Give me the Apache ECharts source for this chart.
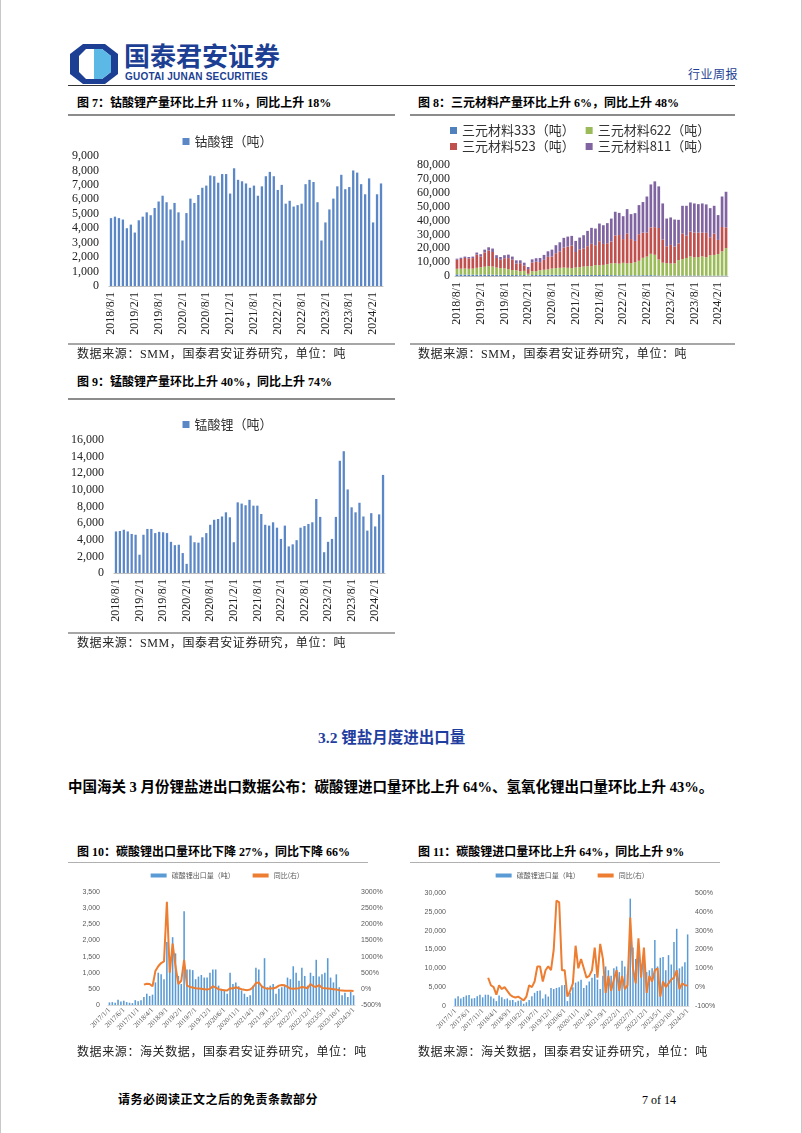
<!DOCTYPE html>
<html>
<head>
<meta charset="utf-8">
<script src="https://cdn.jsdelivr.net/npm/echarts@6/dist/echarts.min.js"></script>
<style>
html, body { margin: 0; padding: 0; background: #fff; }
#page { position: relative; width: 802px; height: 1133px; overflow: hidden;
  font-family: "Liberation Serif", "Noto Sans CJK SC", serif; color: #000;
  box-shadow: inset 1px 0 #c8c8c8, inset -1px 0 #c8c8c8; }
.t { position: absolute; white-space: nowrap; line-height: 14px; }
.title { font-weight: bold; font-size: 12px; }
.src { font-size: 12px; color: #222; letter-spacing: 0.6px; }
.rule { position: absolute; height: 0; }
.chart { position: absolute; }
</style>
</head>
<body>
<div id="page">
  <!-- header -->
  <svg class="t" style="left:70px;top:44px" width="48" height="40" viewBox="0 0 48 40">
    <polygon points="13,0 35,0 48,10 48,30 35,40 13,40 0,30 0,10" fill="#1c3f94"/>
    <polygon points="16,5 32,5 41,12 41,28 32,35 16,35 9,28 9,12" fill="#fff"/>
    <polygon points="24,5 32,5 41,12 41,28 32,35 24,35" fill="#5cb8e4"/>
    <rect x="19" y="5" width="5" height="30" fill="#fff"/>
  </svg>
  <div class="t" style="left:124px;top:40px;font-size:26px;line-height:30px;font-weight:bold;color:#1c3f94;font-family:'Noto Sans CJK SC',sans-serif">国泰君安证券</div>
  <div class="t" style="left:125px;top:71px;font-size:10px;line-height:11px;font-weight:bold;color:#1c3f94;font-family:'Liberation Sans',sans-serif;letter-spacing:0.2px">GUOTAI JUNAN SECURITIES</div>
  <div class="t" style="left:688px;top:68px;font-size:12px;color:#1c3f94;letter-spacing:0.5px">行业周报</div>
  <div class="rule" style="left:68px;top:85px;width:667px;border-top:1.5px solid #333"></div>

  <!-- figure 7 / 8 titles -->
  <div class="t title" style="left:77px;top:96px">图 7：钴酸锂产量环比上升 11%，同比上升 18%</div>
  <div class="t title" style="left:418px;top:96px">图 8：三元材料产量环比上升 6%，同比上升 48%</div>
  <div class="rule" style="left:68px;top:114px;width:327px;border-top:2px solid #8c8c8c"></div>
  <div class="rule" style="left:410px;top:114px;width:325px;border-top:2px solid #8c8c8c"></div>

  <div id="c7" class="chart" style="left:60px;top:130px;width:335px;height:215px"></div>
  <div id="c8" class="chart" style="left:400px;top:115px;width:340px;height:230px"></div>

  <div class="rule" style="left:68px;top:343px;width:327px;border-top:2px solid #a6a6a6"></div>
  <div class="rule" style="left:410px;top:343px;width:325px;border-top:2px solid #a6a6a6"></div>
  <div class="t src" style="left:77px;top:347px">数据来源：SMM，国泰君安证券研究，单位：吨</div>
  <div class="t src" style="left:418px;top:347px">数据来源：SMM，国泰君安证券研究，单位：吨</div>

  <!-- figure 9 -->
  <div class="t title" style="left:77px;top:375px">图 9：锰酸锂产量环比上升 40%，同比上升 74%</div>
  <div class="rule" style="left:68px;top:398px;width:327px;border-top:2px solid #8c8c8c"></div>
  <div id="c9" class="chart" style="left:60px;top:415px;width:335px;height:225px"></div>
  <div class="rule" style="left:68px;top:632px;width:327px;border-top:2px solid #a6a6a6"></div>
  <div class="t src" style="left:77px;top:636px">数据来源：SMM，国泰君安证券研究，单位：吨</div>

  <!-- section 3.2 -->
  <div class="t" style="left:318px;top:729px;font-size:15.5px;line-height:18px;font-weight:bold;color:#1f3ea0">3.2 锂盐月度进出口量</div>
  <div class="t" style="left:68px;top:779px;font-size:14.5px;line-height:17px;font-weight:bold">中国海关 3 月份锂盐进出口数据公布：碳酸锂进口量环比上升 64%、氢氧化锂出口量环比上升 43%。</div>

  <!-- figure 10 / 11 -->
  <div class="t title" style="left:77px;top:845px">图 10：碳酸锂出口量环比下降 27%，同比下降 66%</div>
  <div class="t title" style="left:418px;top:845px">图 11：碳酸锂进口量环比上升 64%，同比上升 9%</div>
  <div class="rule" style="left:68px;top:862px;width:300px;border-top:1.5px solid #b0b0b0"></div>
  <div class="rule" style="left:410px;top:862px;width:310px;border-top:1.5px solid #b0b0b0"></div>

  <div id="c10" class="chart" style="left:60px;top:865px;width:330px;height:180px"></div>
  <div id="c11" class="chart" style="left:410px;top:865px;width:320px;height:180px"></div>

  <div class="t src" style="left:77px;top:1045px">数据来源：海关数据，国泰君安证券研究，单位：吨</div>
  <div class="t src" style="left:418px;top:1045px">数据来源：海关数据，国泰君安证券研究，单位：吨</div>

  <!-- footer -->
  <div class="t" style="left:118px;top:1093px;font-size:12px;font-weight:bold;letter-spacing:0.5px">请务必阅读正文之后的免责条款部分</div>
  <div class="t" style="left:642px;top:1093px;font-size:12px">7 of 14</div>
</div>

<script>
// ---------- data ----------
// monthly categories 2018/8/1 .. 2024/4/1 (figs 7-9)
const monthsProd = [];
for (let y = 2018, m = 8; monthsProd.length < 69; ) {
  monthsProd.push(y + "/" + m + "/1");
  m++;
  if (m > 12) { m = 1; y++; }
}
// customs months 2017/1/1 .. 2024/3/1, 2020/2 merged into 2020/1 (figs 10-11)
const monthsCustoms = [];
for (let y = 2017, m = 1; !(y === 2024 && m === 4); ) {
  if (!(y === 2020 && m === 2)) monthsCustoms.push(y + "/" + m + "/1");
  m++;
  if (m > 12) { m = 1; y++; }
}

const licoo2 = [4700, 4800, 4700, 4600, 4000, 4250, 3700, 4550, 4800, 5100,
  4900, 5400, 5850, 6250, 5800, 5300, 5750, 5100, 3150, 5050,
  6050, 5750, 6300, 6800, 6950, 7650, 7600, 7150, 7750, 7750,
  6400, 8150, 7350, 7250, 7100, 6800, 6950, 6250, 6900, 7600,
  7900, 7600, 6650, 7000, 5700, 5900, 5500, 5600, 5700, 7050,
  7350, 7200, 5800, 3150, 4400, 5300, 6050, 6900, 7700, 6700,
  6850, 8000, 7850, 7050, 6350, 7450, 4400, 6350, 7100];

const ncm333 = [1200, 1100, 1100, 1000, 1000,
  900, 1000, 1100, 1100, 1000, 900, 900, 900, 800, 700, 700, 600,
  700, 400, 700, 700, 800, 800, 800, 900, 900, 900, 900, 800,
  700, 800, 800, 800, 800, 700, 700, 700, 700, 700, 600, 600,
  500, 600, 500, 500, 500, 500, 600, 600, 600, 500, 400, 300,
  300, 300, 300, 400, 400, 400, 400, 400, 400, 300, 300, 300,
  200, 300, 300, 300];
const ncm622 = [4000, 4200, 4300, 4200, 4300,
  5000, 5300, 5600, 6000, 5800, 5200, 4800, 4600, 4200, 3600, 3400, 2800,
  3000, 1200, 2800, 2700, 3300, 3700, 4000, 4500, 4800, 5000, 5200, 5100,
  5000, 5300, 5600, 6000, 6200, 6400, 7200, 7000, 7300, 7800, 8500, 8600,
  8400, 8900, 8600, 8800, 9400, 10500, 12500, 13400, 15400, 14800, 11500, 9300,
  8900, 8700, 8800, 11000, 11800, 12600, 13700, 13000, 13300, 13800, 13200, 14600,
  15000, 15500, 17500, 19800];
const ncm523 = [6500, 7000, 7600, 7500, 7600,
  9500, 7800, 10300, 11300, 10500, 6900, 6000, 7300, 7900, 7500, 4900, 5800,
  3900, 3400, 6200, 6900, 5900, 7200, 9000, 8600, 10700, 11900, 14400, 15300,
  16200, 11200, 12800, 13100, 14500, 16100, 14300, 17300, 15100, 15100, 15800, 20100,
  20600, 17100, 21600, 17300, 15400, 19100, 18200, 17300, 19000, 19900, 22700, 16700,
  12200, 13400, 12100, 12100, 18400, 16100, 17900, 17900, 17600, 17200, 17600, 13000,
  15400, 10200, 17500, 14900];
const ncm811 = [800, 900, 1000, 1000, 1100,
  1500, 1600, 2000, 2300, 2500, 2000, 2000, 2200, 2500, 2200, 2300, 2100,
  2000, 1500, 2300, 2500, 3000, 3500, 4000, 5000, 5800, 6500, 7000, 7200,
  7000, 8000, 8500, 9500, 11000, 11500, 12000, 12800, 13500, 14500, 16500, 17000,
  16000, 16500, 17500, 18000, 20000, 21000, 22000, 26000, 31000, 33000, 30000, 26000,
  20000, 19800, 19500, 17000, 20000, 21500, 21000, 21000, 20500, 21000, 20500, 21000,
  20000, 17900, 22000, 25700];

const limn2o4 = [5000, 5050, 5200, 5000, 4700, 4600, 2200, 4600, 5300, 5300,
  4800, 4950, 4900, 4800, 3750, 3350, 3400, 2400, 1100, 4500,
  3700, 3650, 4300, 4800, 5800, 6400, 6500, 6800, 7300, 6700,
  3700, 8500, 8350, 8150, 8800, 8100, 8100, 7100, 5800, 5700,
  6100, 5450, 4100, 5700, 3200, 3450, 3950, 5450, 5650, 5900,
  6100, 8900, 6750, 2500, 3750, 4100, 6750, 13500, 14650, 10050,
  7900, 7300, 8450, 6800, 5100, 7200, 5600, 7050, 11800];

const li2co3Export = [80, 90, 70, 160, 110, 130, 90, 70, 60, 150, 120, 150,
  250, 350, 280, 320, 700, 1000, 950, 800, 1950, 1500, 2100, 1600,
  900, 650, 2900, 1100, 1100, 1080, 800, 880, 930, 850, 850, 1000,
  1100, 1100, 600, 500, 450, 350, 1000, 650, 700, 580, 450, 350,
  250, 300, 600, 1150, 1100, 600, 1450, 550, 600, 650, 350, 500,
  550, 600, 850, 800, 1200, 1000, 750, 1150, 900, 600, 1000, 900,
  1400, 880, 950, 1000, 1450, 850, 700, 950, 550, 300, 380, 250,
  410, 300];
const exportYoY = [null, null, null, null, null, null, null, null, null, null, null, null,
  130, 160, 150, 80, 550, 700, 800, 850, 2700, 500, 1400, 700,
  150, 250, 900, 100, 60, 40, 20, 10, 0, -10, -20, 0,
  80, 40, -10, -30, -40, -50, 20, 10, 50, 20, -10, -30,
  -40, -20, 50, 180, 200, 80, 30, 0, 20, 10, 40, 100,
  120, 110, 60, 10, 0, 10, 20, 60, 40, 20, 150, 80,
  60, 120, 30, 20, 10, 0, -10, -20, -40, -50, -60, -55,
  -60, -66];

const li2co3Import = [2000, 2600, 2000, 2400, 2800, 2900, 2000, 2100, 2600, 3000, 2300, 3000,
  3000, 2500, 2000, 1300, 2800, 2300, 1800, 2000, 1500, 1600, 1000, 1400,
  1500, 600, 1000, 1600, 2600, 3500, 4000, 4100, 2000, 3100, 2500, 4800,
  4500, 4800, 5000, 5500, 5600, 1300, 3500, 5000, 6200, 6500, 7000,
  4800, 5500, 6500, 7500, 8500, 7000, 4500, 8000, 10500, 9500, 8000, 10000,
  10500, 9000, 12000, 10500, 8500, 28500, 15500, 12500, 15000, 11000, 12000, 9000,
  9500, 10000, 17500, 10500, 12800, 13000, 9500, 13500, 11000, 17000, 20500, 10000,
  10500, 11600, 19000];
const importYoY = [null, null, null, null, null, null, null, null, null, null, null, null,
  50, 10, 0, -40, 10, -10, 0, -20, -40, -50, -55, -50,
  -60, -70, -50, 10, 0, 30, 110, 110, 30, 90, 110, 90,
  200, 460, 450, 90, 90, -50, -20, 20, 220, 100, 150, 100,
  50, 60, 90, 210, 50, 230, 150, -30, 60, -20, 40, 90,
  -20, 60, -10, 10, 370, 100, 20, 260, 50, 210, -30, 60,
  30, 90, 100, -50, 30, 0, 20, 40, 50, 90, -10, 20,
  10, 9];

// ---------- styles ----------
const serif = '"Liberation Serif", "Times New Roman", serif';
const cjk = '"Noto Sans CJK SC", sans-serif';
const small = '"Liberation Sans", "Noto Sans CJK SC", sans-serif';
const fmtNum = v => Number(v).toLocaleString("en-US");
const fmtPct = v => v + "%";

function prodAxisX(data) {
  return {
    type: "category", data: data,
    axisLine: { lineStyle: { color: "#bfbfbf" } },
    axisTick: { interval: 5, length: 4, lineStyle: { color: "#bfbfbf" } },
    axisLabel: { interval: 5, rotate: 90, fontFamily: serif, fontSize: 12, color: "#222", margin: 6 }
  };
}
function prodAxisY(max, interval, margin) {
  return {
    type: "value", min: 0, max: max, interval: interval,
    splitLine: { show: false }, axisLine: { show: false }, axisTick: { show: false },
    axisLabel: { formatter: fmtNum, fontFamily: serif, fontSize: 12, color: "#222", margin: margin }
  };
}
const legendText = { fontFamily: cjk, fontSize: 13, color: "#333" };

// fig 7
echarts.init(document.getElementById("c7")).setOption({
  animation: false,
  legend: { top: 5, left: "center", padding: 0, icon: "rect", itemWidth: 7, itemHeight: 7,
    textStyle: legendText, data: ["钴酸锂（吨）"] },
  grid: { left: 49, right: 12, top: 26, height: 130, outerBoundsMode: "none" },
  xAxis: prodAxisX(monthsProd),
  yAxis: prodAxisY(9000, 1000, 10),
  series: [{ name: "钴酸锂（吨）", type: "bar", data: licoo2, barWidth: "58%",
    itemStyle: { color: "#5b87c6" } }]
});

// fig 8
const ncmNames = ["三元材料333（吨）", "三元材料622（吨）", "三元材料523（吨）", "三元材料811（吨）"];
const ncmColors = ["#4f81bd", "#9bbb59", "#c0504d", "#8064a2"];
const ncmData = [ncm333, ncm622, ncm523, ncm811];
echarts.init(document.getElementById("c8")).setOption({
  animation: false,
  legend: [
    { top: 9, left: 50, padding: 0, icon: "rect", itemWidth: 7, itemHeight: 7, itemGap: 11,
      textStyle: legendText, data: [ncmNames[0], ncmNames[1]] },
    { top: 25, left: 50, padding: 0, icon: "rect", itemWidth: 7, itemHeight: 7, itemGap: 11,
      textStyle: legendText, data: [ncmNames[2], ncmNames[3]] }
  ],
  grid: { left: 55, right: 12, top: 50, height: 111, outerBoundsMode: "none" },
  xAxis: prodAxisX(monthsProd),
  yAxis: prodAxisY(80000, 10000, 5),
  series: ncmNames.map((n, i) => ({
    name: n, type: "bar", stack: "ncm", data: ncmData[i], barWidth: "68%",
    itemStyle: { color: ncmColors[i] }
  }))
});

// fig 9
echarts.init(document.getElementById("c9")).setOption({
  animation: false,
  legend: { top: 3, left: "center", padding: 0, icon: "rect", itemWidth: 7, itemHeight: 7,
    textStyle: legendText, data: ["锰酸锂（吨）"] },
  grid: { left: 54, right: 10, top: 25, height: 133, outerBoundsMode: "none" },
  xAxis: prodAxisX(monthsProd),
  yAxis: prodAxisY(16000, 2000, 10),
  series: [{ name: "锰酸锂（吨）", type: "bar", data: limn2o4, barWidth: "58%",
    itemStyle: { color: "#5b87c6" } }]
});

// figs 10, 11
function customsChart(id, grid, barName, bars, yoy, leftMax, leftInt, rMin, rMax, rInt) {
  echarts.init(document.getElementById(id)).setOption({
    animation: false,
    legend: { top: 7, left: "center", padding: 0, itemWidth: 16, itemHeight: 4, itemGap: 18,
      textStyle: { fontFamily: cjk, fontSize: 7, color: "#595959" },
      data: [{ name: barName, icon: "rect" }, { name: "同比(右)", icon: "rect", itemStyle: { color: "#ed7d31" } }] },
    grid: Object.assign({ outerBoundsMode: "none" }, grid),
    xAxis: {
      type: "category", data: monthsCustoms,
      axisLine: { lineStyle: { color: "#d9d9d9" } }, axisTick: { show: false },
      axisLabel: { interval: 4, rotate: 45, fontFamily: serif, fontSize: 7, color: "#595959", margin: 4 }
    },
    yAxis: [
      { type: "value", min: 0, max: leftMax, interval: leftInt, splitLine: { show: false },
        axisLabel: { formatter: fmtNum, fontFamily: small, fontSize: 7, color: "#595959", margin: 8 } },
      { type: "value", min: rMin, max: rMax, interval: rInt, splitLine: { show: false },
        axisLabel: { formatter: fmtPct, fontFamily: small, fontSize: 7, color: "#595959", margin: 6 } }
    ],
    series: [
      { name: barName, type: "bar", data: bars, barWidth: "55%", itemStyle: { color: "#5b9bd5" } },
      { name: "同比(右)", type: "line", yAxisIndex: 1, data: yoy, showSymbol: false, symbol: "none",
        lineStyle: { color: "#ed7d31", width: 2 }, itemStyle: { color: "#ed7d31" } }
    ]
  });
}
customsChart("c10", { left: 48, right: 35, top: 27, height: 113 }, "碳酸锂出口量（吨）",
  li2co3Export, exportYoY, 3500, 500, -500, 3000, 500);
customsChart("c11", { left: 44, right: 41, top: 28, height: 113 }, "碳酸锂进口量（吨）",
  li2co3Import, importYoY, 30000, 5000, -100, 500, 100);
</script>
</body>
</html>
